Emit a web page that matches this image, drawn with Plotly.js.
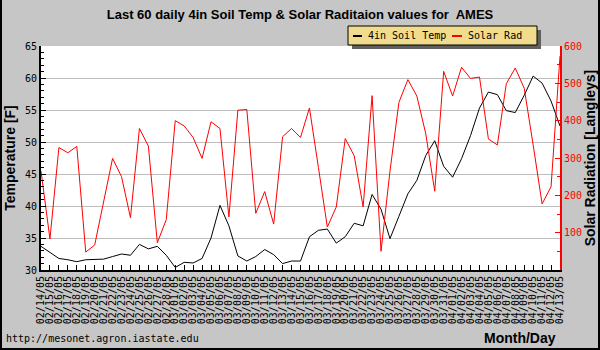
<!DOCTYPE html>
<html><head><meta charset="utf-8">
<script src="https://cdn.plot.ly/plotly-3.0.1.min.js"></script>
<style>
html,body{margin:0;padding:0;background:#c6c6c6}
#wrap{position:relative;width:600px;height:350px}
#chart{width:600px;height:350px}
#frame{position:absolute;left:0;top:0;width:600px;height:350px;box-sizing:border-box;border-left:2px solid #000;border-right:2px solid #000;border-bottom:2px solid #000;pointer-events:none}
</style>
</head><body>
<div id="wrap"><div id="chart"></div><div id="frame"></div></div>
<script>
const dates = ["02/14/05","02/15/05","02/16/05","02/17/05","02/18/05","02/19/05","02/20/05","02/21/05","02/22/05","02/23/05","02/24/05","02/25/05","02/26/05","02/27/05","02/28/05",
"03/01/05","03/02/05","03/03/05","03/04/05","03/05/05","03/06/05","03/07/05","03/08/05","03/09/05","03/10/05","03/11/05","03/12/05","03/13/05","03/14/05","03/15/05","03/16/05","03/17/05","03/18/05","03/19/05","03/20/05","03/21/05","03/22/05","03/23/05","03/24/05","03/25/05","03/26/05","03/27/05","03/28/05","03/29/05","03/30/05","03/31/05",
"04/01/05","04/02/05","04/03/05","04/04/05","04/05/05","04/06/05","04/07/05","04/08/05","04/09/05","04/10/05","04/11/05","04/12/05","04/13/05"];

const soilTemp = [33.7,32.8,31.8,31.6,31.3,31.6,31.7,31.7,32.1,32.5,
32.3,34.0,33.3,33.7,32.3,30.4,31.2,31.1,31.8,35.0,
40.1,36.9,32.2,31.4,32.1,33.2,32.4,31.0,31.4,31.4,
35.2,36.2,36.4,34.2,35.2,37.3,36.9,41.8,39.5,34.9,
38.4,41.9,44.0,47.9,50.2,46.2,44.5,47.4,51.0,55.3,
57.8,57.4,54.9,54.6,57.3,60.3,59.2,56.4,52.5];

const solarRad = [265,83,328,314,331,48,67,183,299,250,
140,379,332,73,135,400,386,355,299,397,
379,142,428,430,152,210,123,357,379,355,
434,275,115,169,352,306,169,467,50,265,
449,510,466,365,211,532,466,543,513,517,
351,335,499,541,487,335,177,223,573];

const tempTicks = [30,35,40,45,50,55,60,65];
const radTicks = [100,200,300,400,500,600];
const seriesNames = ['4in Soil Temp', 'Solar Rad'];
const seriesColors = ['#000000', '#ff0000'];

const mono = "DejaVu Sans Mono, Liberation Mono, monospace";
const sans = "Liberation Sans, Arial, sans-serif";

// plot area in pixels: left 41, right 560, top 46, bottom 270
const PL = 41, PW = 519, PB = 270, PH = 224;
const px = v => (v - PL) / PW;
const py = v => (PB - v) / PH;

const traces = [
  {x: dates, y: soilTemp, type: 'scatter', mode: 'lines', name: seriesNames[0],
   line: {color: seriesColors[0], width: 1}, yaxis: 'y'},
  {x: dates, y: solarRad, type: 'scatter', mode: 'lines', name: seriesNames[1],
   line: {color: seriesColors[1], width: 1}, yaxis: 'y2'}
];

const legendShapes = [
  {type: 'rect', xref: 'paper', yref: 'paper', x0: px(352), x1: px(541), y0: py(30), y1: py(49),
   fillcolor: '#606060', line: {width: 0}, layer: 'above'},
  {type: 'rect', xref: 'paper', yref: 'paper', x0: px(348), x1: px(537), y0: py(26), y1: py(45),
   fillcolor: '#f0dc8c', line: {color: '#000', width: 1}, layer: 'above'},
  {type: 'line', xref: 'paper', yref: 'paper', x0: px(353), x1: px(362), y0: py(36), y1: py(36),
   line: {color: seriesColors[0], width: 2}, layer: 'above'},
  {type: 'line', xref: 'paper', yref: 'paper', x0: px(452), x1: px(462), y0: py(36), y1: py(36),
   line: {color: seriesColors[1], width: 2}, layer: 'above'}
];

const layout = {
  width: 600, height: 350,
  paper_bgcolor: '#c6c6c6', plot_bgcolor: '#ffffff',
  margin: {l: 41, r: 40, t: 46, b: 80, pad: 0},
  title: {text: 'Last 60 daily 4in Soil Temp &amp; Solar Raditaion values for  AMES',
          font: {family: sans, size: 13, color: '#000', weight: 'bold'},
          x: 0.5, xref: 'container', y: 1 - 14/350, yref: 'container', yanchor: 'middle'},
  showlegend: false,
  xaxis: {type: 'category', range: [0, dates.length - 1], tickmode: 'array', tickvals: dates, ticktext: dates,
          tickangle: -90, tickfont: {family: mono, size: 10, color: '#000'},
          ticks: 'inside', ticklen: 5, tickcolor: '#000', showgrid: false,
          showline: true, linecolor: '#000', linewidth: 2, zeroline: false, automargin: false, fixedrange: true},
  yaxis: {range: [30, 65], tickmode: 'array', tickvals: tempTicks,
          tickfont: {family: mono, size: 10, color: '#000'},
          ticks: 'inside', ticklen: 5, tickcolor: '#000',
          minor: {tickmode: 'linear', tick0: 30, dtick: 1, ticks: 'inside', ticklen: 3, tickcolor: '#000', showgrid: false},
          showgrid: true, gridcolor: '#bdbdbd', gridwidth: 1,
          showline: true, linecolor: '#000', linewidth: 2, zeroline: false, automargin: false,
          title: {text: 'Temperature [F]', font: {family: sans, size: 14, color: '#000', weight: 'bold'}, standoff: 6}},
  yaxis2: {range: [0, 600], overlaying: 'y', side: 'right', tickmode: 'array', tickvals: radTicks,
          tickfont: {family: mono, size: 10, color: '#ff0000'},
          ticks: 'inside', ticklen: 5, tickcolor: '#ff0000',
          minor: {tickmode: 'linear', tick0: 0, dtick: 50, ticks: 'inside', ticklen: 3, tickcolor: '#ff0000', showgrid: false},
          showgrid: false, showline: true, linecolor: '#ff0000', linewidth: 2, zeroline: false, automargin: false,
          title: {text: 'Solar Radiation [Langleys]', font: {family: sans, size: 14, color: '#000', weight: 'bold'}, standoff: 4}},
  shapes: legendShapes,
  annotations: [
    {text: seriesNames[0], xref: 'paper', yref: 'paper', x: px(366), y: py(36), xanchor: 'left', yanchor: 'middle',
     showarrow: false, font: {family: mono, size: 10, color: '#000'}},
    {text: seriesNames[1], xref: 'paper', yref: 'paper', x: px(466), y: py(36), xanchor: 'left', yanchor: 'middle',
     showarrow: false, font: {family: mono, size: 10, color: '#000'}},
    {text: 'Month/Day', xref: 'paper', yref: 'paper', x: px(558), y: py(338),
     xanchor: 'right', yanchor: 'middle', showarrow: false,
     font: {family: sans, size: 14, color: '#000', weight: 'bold'}},
    {text: 'http://mesonet.agron.iastate.edu', xref: 'paper', yref: 'paper', x: px(4), y: py(338),
     xanchor: 'left', yanchor: 'middle', showarrow: false,
     font: {family: mono, size: 10, color: '#000'}}
  ]
};

Plotly.newPlot('chart', traces, layout, {staticPlot: true, displayModeBar: false});
</script>
</body></html>
